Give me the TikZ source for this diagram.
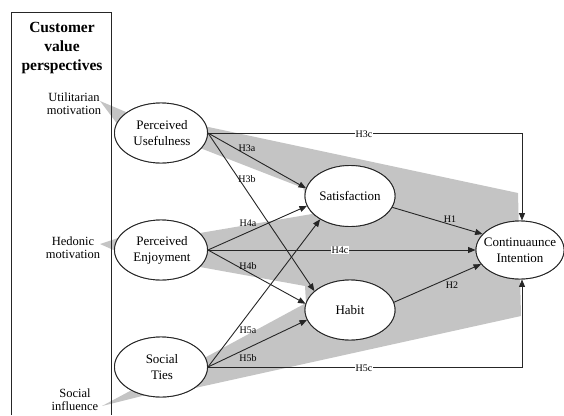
\documentclass[tikz,border=0pt]{standalone}
\usepackage{fontspec}
\setmainfont{Liberation Serif}
\usetikzlibrary{shapes.geometric,arrows.meta}
\begin{document}
\begin{tikzpicture}[x=1pt,y=-1pt,
  ell/.style={ellipse,draw=black!85,line width=0.9pt,fill=white,inner sep=0pt},
  etext/.style={align=center,inner sep=0pt,text=black,font=\fontsize{13}{16}\selectfont},
  arr/.style={draw=black!85,line width=0.9pt,-{Triangle[length=7.5pt,width=6pt]}},
  plain/.style={draw=black!85,line width=0.9pt},
  hl/.style={font=\fontsize{10}{11}\selectfont,inner sep=1pt,text=black},
  hlw/.style={hl,fill=white},
  side/.style={align=center,inner sep=0pt,text=black,font=\fontsize{12.5}{13}\selectfont},
  shade/.style={fill=black!23,draw=none}]
\useasboundingbox (0,0) rectangle (564,415);
% gray funnels
\fill[shade] (185,122) -- (518,193) -- (521,316) -- (195,388) -- (190,366) -- (208,356)
  -- (306,303) -- (305,286) -- (200,267) -- (190,250) -- (200,233) -- (312,214)
  -- (303,188) -- (200,148) -- (185,135) -- cycle;
\fill[shade] (100,101) -- (126,112) -- (118,125) -- cycle;
\fill[shade] (100,244) -- (118,238) -- (118,252) -- cycle;
\fill[shade] (102,406) -- (130,391) -- (150,394) -- cycle;
% left panel
\draw[plain] (11,415) -- (11,12) -- (111,12) -- (111,415);
\node[align=center,inner sep=0pt,text=black,font=\fontsize{15.5}{19}\selectfont\bfseries] (title) at (62,48) {Customer\\value\\perspectives};
\node[side] (util) at (74,103.5) {Utilitarian\\motivation};
\node[side] (hed) at (73,248) {Hedonic\\motivation};
\node[side] (soc) at (75,399.5) {Social\\influence};
% ellipses
\node[ell,minimum width=93pt,minimum height=60pt] (pu) at (161,133) {};
\node[ell,minimum width=93pt,minimum height=60pt] (pe) at (161,250) {};
\node[ell,minimum width=93pt,minimum height=60pt] (st) at (161,367) {};
\node[ell,minimum width=90pt,minimum height=61pt] (sat) at (350,196) {};
\node[ell,minimum width=90pt,minimum height=60pt] (hab) at (350,310) {};
\node[ell,minimum width=88pt,minimum height=58pt] (ci) at (520,250) {};
% connectors
\draw[arr] (pu.east) -| ([xshift=2pt]ci.north);
\draw[arr] (pe.east) -- (ci.west);
\draw[arr] (st.east) -| ([xshift=2pt]ci.south);
\draw[arr] (pu.east) -- (sat.170);
\draw[arr] (pu.east) -- (hab.152);
\draw[arr] (pe.east) -- (sat.193);
\draw[arr] (pe.east) -- (hab.172);
\draw[arr] (st.east) -- (sat.218);
\draw[arr] (st.east) -- (hab.193);
\draw[arr] (sat.345) -- (ci.157);
\draw[arr] (hab.10) -- (ci.200);
% redraw ellipses on top
\node[ell,minimum width=93pt,minimum height=60pt] at (pu) {};
\node[ell,minimum width=93pt,minimum height=60pt] at (pe) {};
\node[ell,minimum width=93pt,minimum height=60pt] at (st) {};
\node[ell,minimum width=90pt,minimum height=61pt] at (sat) {};
\node[ell,minimum width=90pt,minimum height=60pt] at (hab) {};
\node[ell,minimum width=88pt,minimum height=58pt] at (ci) {};
% ellipse texts
\node[etext] (put) at (162,133) {Perceived\\Usefulness};
\node[etext] (pet) at (162,250) {Perceived\\Enjoyment};
\node[etext] (stt) at (162,367) {Social\\Ties};
\node[etext] (satt) at (350,196) {Satisfaction};
\node[etext] (habt) at (350,310) {Habit};
\node[etext] (cit) at (520,250) {Continuaunce\\Intention};
% hypothesis labels
\node[hl] (h3a) at (247,148) {H3a};
\node[hl] (h3b) at (247,179) {H3b};
\node[hl] (h4a) at (248,223) {H4a};
\node[hl] (h4b) at (248,266) {H4b};
\node[hl] (h5a) at (248,330) {H5a};
\node[hl] (h5b) at (248,358) {H5b};
\node[hl] (h1) at (450,219) {H1};
\node[hl] (h2) at (452,285) {H2};
\node[hlw] (h3c) at (364,134) {H3c};
\node[hlw] (h4c) at (340,250) {H4c};
\node[hlw] (h5c) at (364,368) {H5c};
\end{tikzpicture}
\end{document}
